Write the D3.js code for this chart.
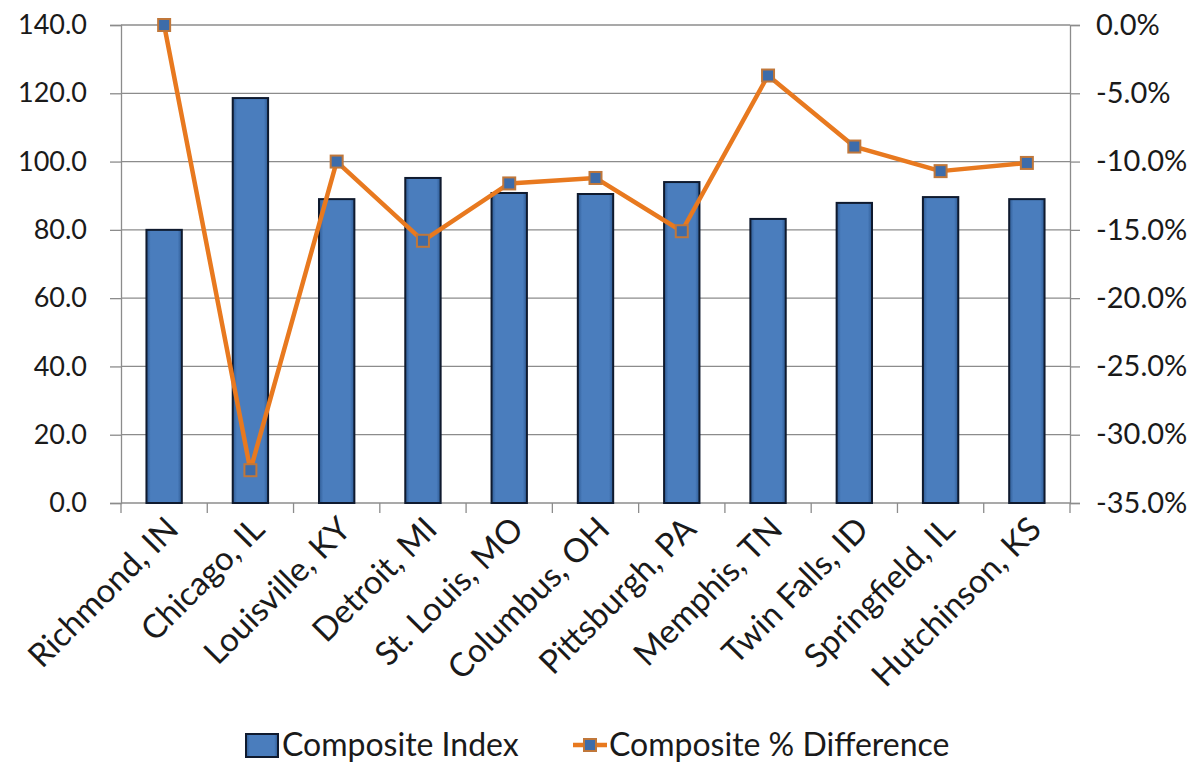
<!DOCTYPE html>
<html>
<head>
<meta charset="utf-8">
<script src="https://cdn.jsdelivr.net/npm/d3@7"></script>
<style>
	body { margin: 0; background: #fff; }
	svg { display: block; }
</style>
</head>
<body>
<div id="viz"></div>
<script>
// data
let cities = ["Richmond, IN", "Chicago, IL", "Louisville, KY", "Detroit, MI", "St. Louis, MO",
	"Columbus, OH", "Pittsburgh, PA", "Memphis, TN", "Twin Falls, ID", "Springfield, IL", "Hutchinson, KS"];
let compositeIndex = [80.0, 118.6, 89.0, 95.2, 90.8, 90.5, 94.0, 83.2, 87.9, 89.6, 89.0];
let compositeDiff = [0.0, -32.6, -10.0, -15.8, -11.6, -11.2, -15.1, -3.7, -8.9, -10.7, -10.1];
let leftTicks = [0, 20, 40, 60, 80, 100, 120, 140];
let rightTicks = [0, -5, -10, -15, -20, -25, -30, -35];
let seriesNames = ["Composite Index", "Composite % Difference"];

function draw() {
	let width = 1191, height = 764;
	let left = 121, right = 1070, top = 25, bottom = 503;
	let font = "Lato, 'Open Sans', sans-serif";
	let fmt = v => v.toFixed(1); // plain hyphen minus like the original

	let svg = d3.select("#viz").append("svg")
		.attr("width", width).attr("height", height);

	let defs = svg.append("defs");
	let grad = defs.append("linearGradient").attr("id", "barGrad")
		.attr("x1", "0").attr("x2", "1").attr("y1", "0").attr("y2", "0");
	grad.append("stop").attr("offset", "0").attr("stop-color", "#2e5a93");
	grad.append("stop").attr("offset", "0.12").attr("stop-color", "#4a7dbd");
	grad.append("stop").attr("offset", "0.88").attr("stop-color", "#4a7dbd");
	grad.append("stop").attr("offset", "1").attr("stop-color", "#2e5a93");

	let x = d3.scaleBand().domain(cities).range([left, right]).paddingInner(0.59).paddingOuter(0.295);
	let xb = d3.scaleBand().domain(cities).range([left, right]).padding(0);
	let yL = d3.scaleLinear().domain([0, 140]).range([bottom, top]);
	let yR = d3.scaleLinear().domain([-35, 0]).range([bottom, top]);

	// gridlines + left axis
	let axL = svg.append("g").attr("transform", "translate(" + left + ",0)")
		.call(d3.axisLeft(yL).tickValues(leftTicks).tickFormat(fmt)
			.tickSize(11).tickPadding(23));
	axL.select(".domain").attr("stroke", "#8c8c8c").attr("stroke-width", 1.3);
	axL.selectAll(".tick line").attr("stroke", "#8c8c8c").attr("stroke-width", 1.3);
	axL.selectAll(".tick text").style("font-family", font).style("font-size", "27px").attr("fill", "#1a1a1a");

	svg.append("g").selectAll("line").data(leftTicks.filter(d => d > 0)).join("line")
		.attr("x1", left).attr("x2", right)
		.attr("y1", d => yL(d)).attr("y2", d => yL(d))
		.attr("stroke", "#8c8c8c").attr("stroke-width", 1.3);

	// right axis
	let axR = svg.append("g").attr("transform", "translate(" + right + ",0)")
		.call(d3.axisRight(yR).tickValues(rightTicks).tickFormat(d => fmt(d) + "%")
			.tickSize(10).tickPadding(16));
	axR.select(".domain").attr("stroke", "#8c8c8c").attr("stroke-width", 1.3);
	axR.selectAll(".tick line").attr("stroke", "#8c8c8c").attr("stroke-width", 1.3);
	axR.selectAll(".tick text").style("font-family", font).style("font-size", "29px").attr("fill", "#1a1a1a");

	// x axis with ticks at band boundaries
	svg.append("line").attr("x1", left).attr("x2", right).attr("y1", bottom).attr("y2", bottom)
		.attr("stroke", "#8c8c8c").attr("stroke-width", 1.3);
	svg.append("g").selectAll("line").data(cities.concat(["__end"])).join("line")
		.attr("x1", (d, i) => i < cities.length ? xb(d) : right)
		.attr("x2", (d, i) => i < cities.length ? xb(d) : right)
		.attr("y1", bottom).attr("y2", bottom + 10)
		.attr("stroke", "#8c8c8c").attr("stroke-width", 1.3);

	svg.append("g").selectAll("text").data(cities).join("text")
		.attr("transform", d => "translate(" + (xb(d) + xb.bandwidth() / 2 + 8) + "," + (bottom + 20) + ") rotate(-45)")
		.attr("text-anchor", "end")
		.attr("dy", "0.35em")
		.style("font-family", font).style("font-size", "33px").attr("fill", "#1a1a1a")
		.text(d => d);

	// bars
	svg.append("g").selectAll("rect").data(cities).join("rect")
		.attr("x", d => x(d)).attr("width", x.bandwidth())
		.attr("y", (d, i) => yL(compositeIndex[i]))
		.attr("height", (d, i) => bottom - yL(compositeIndex[i]))
		.attr("fill", "url(#barGrad)")
		.attr("stroke", "#0f1a2e").attr("stroke-width", 2);

	// line
	let cx = d => xb(d) + xb.bandwidth() / 2;
	let line = d3.line().x((d, i) => cx(cities[i])).y(d => yR(d));
	svg.append("path").datum(compositeDiff)
		.attr("d", line)
		.attr("fill", "none").attr("stroke", "#e8791f").attr("stroke-width", 4.5)
		.attr("stroke-linejoin", "round");

	svg.append("g").selectAll("rect").data(compositeDiff).join("rect")
		.attr("x", (d, i) => cx(cities[i]) - 6).attr("y", d => yR(d) - 6)
		.attr("width", 12).attr("height", 12)
		.attr("fill", "#3d6caa").attr("stroke", "#c0773a").attr("stroke-width", 2);

	// legend
	let lg = svg.append("g");
	lg.append("rect").attr("x", 246).attr("y", 734).attr("width", 32).attr("height", 23)
		.attr("fill", "url(#barGrad)").attr("stroke", "#0f1a2e").attr("stroke-width", 2);
	lg.append("text").attr("x", 282).attr("y", 756).text(seriesNames[0])
		.style("font-family", font).style("font-size", "32px").attr("fill", "#1a1a1a");
	lg.append("line").attr("x1", 573).attr("x2", 607).attr("y1", 745).attr("y2", 745)
		.attr("stroke", "#e8791f").attr("stroke-width", 4.5);
	lg.append("rect").attr("x", 584).attr("y", 739).attr("width", 12).attr("height", 12)
		.attr("fill", "#3d6caa").attr("stroke", "#c0773a").attr("stroke-width", 2);
	lg.append("text").attr("x", 609).attr("y", 756).text(seriesNames[1])
		.style("font-family", font).style("font-size", "32px").attr("fill", "#1a1a1a");
}
draw();
</script>
</body>
</html>
